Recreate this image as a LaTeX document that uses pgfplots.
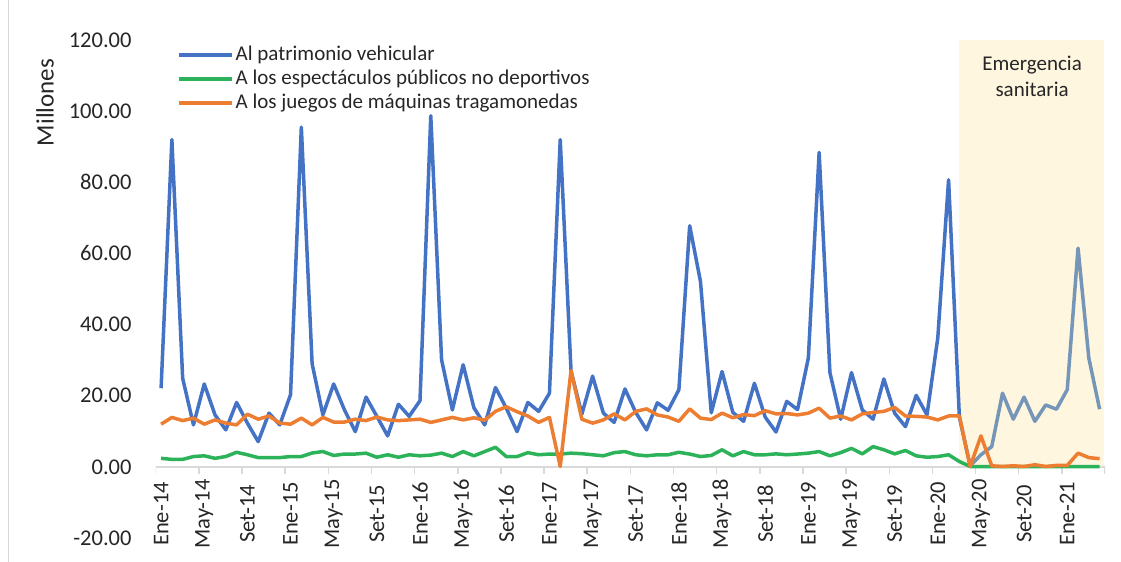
\documentclass[border=0pt]{standalone}
\usepackage{fontspec}
\setmainfont{Carlito}
\usepackage{pgfplots}
\usepackage{pgfplotstable}
\pgfplotsset{compat=1.18}
\definecolor{cblue}{HTML}{4472C4}
\definecolor{cgrey}{HTML}{7596B8}
\definecolor{cgreen}{HTML}{2CB35A}
\definecolor{corange}{HTML}{ED7D31}
\definecolor{ccream}{HTML}{FFF6DF}
\definecolor{caxis}{HTML}{D9D9D9}
\definecolor{ctext}{HTML}{262626}

\pgfplotstableread{
i blue orange green
0 22.1 12.0 2.4
1 92.0 13.9 2.1
2 24.9 13.0 2.1
3 11.8 13.7 2.9
4 23.3 12.0 3.1
5 14.6 13.2 2.4
6 10.4 12.3 2.9
7 18.1 11.8 4.1
8 12.3 14.8 3.4
9 7.1 13.4 2.6
10 15.1 14.3 2.6
11 11.8 12.3 2.6
12 20.3 12.0 2.9
13 95.5 13.7 2.9
14 29.0 11.8 3.9
15 14.6 13.9 4.3
16 23.3 12.6 3.2
17 16.0 12.6 3.6
18 9.9 13.4 3.6
19 19.6 13.0 3.85
20 14.2 14.0 2.7
21 8.7 13.2 3.4
22 17.6 13.0 2.7
23 14.2 13.2 3.4
24 18.6 13.4 3.1
25 98.7 12.5 3.3
26 30.1 13.2 3.85
27 16.0 13.9 2.9
28 28.7 13.2 4.3
29 16.6 13.8 3.1
30 11.8 13.1 4.3
31 22.3 15.6 5.5
32 16.5 16.9 2.9
33 9.9 15.5 2.9
34 18.1 14.3 4.0
35 15.6 12.5 3.4
36 20.7 13.9 3.6
37 92.0 0.1 3.6
38 27.0 27.1 3.85
39 14.8 13.4 3.7
40 25.5 12.3 3.4
41 15.1 13.2 3.1
42 12.5 14.9 4.0
43 21.9 13.2 4.3
44 15.3 15.6 3.4
45 10.4 16.3 3.1
46 18.0 14.6 3.4
47 15.9 14.0 3.4
48 21.7 12.8 4.1
49 67.8 16.3 3.6
50 52.1 13.7 2.9
51 15.2 13.3 3.2
52 26.8 15.1 4.8
53 15.3 13.8 3.1
54 12.8 14.7 4.3
55 23.5 14.4 3.4
56 14.0 15.8 3.4
57 9.8 14.9 3.65
58 18.4 15.0 3.4
59 16.1 14.6 3.6
60 30.6 15.1 3.85
61 88.4 16.5 4.3
62 26.5 13.7 3.1
63 13.4 14.3 4.0
64 26.5 13.2 5.2
65 16.0 14.9 3.65
66 13.4 15.3 5.7
67 24.7 15.6 4.8
68 15.1 16.7 3.65
69 11.3 14.3 4.6
70 20.1 14.2 3.1
71 14.6 14.0 2.7
72 36.3 13.2 2.9
73 80.7 14.3 3.4
74 14.0 14.3 1.5
75 0.3 0.1 0.1
76 3.4 8.7 0.05
77 5.7 0.3 0.05
78 20.7 0.1 0.05
79 13.4 0.3 0.05
80 19.6 0.1 0.05
81 12.8 0.6 0.05
82 17.4 0.1 0.05
83 16.2 0.4 0.05
84 21.7 0.4 0.05
85 61.5 3.85 0.05
86 30.6 2.6 0.05
87 16.2 2.3 0.05
}\datatable

\begin{document}
\begin{tikzpicture}
\path[use as bounding box] (-155.7bp,-24bp) rectangle (965.3bp,538bp);
\draw[caxis, line width=1bp] (-146.7bp,-24bp) -- (-146.7bp,538bp);
\begin{axis}[
  at={(0,0)}, anchor=south west,
  scale only axis, width=949.3bp, height=498bp,
  xmin=-0.5, xmax=87.5, ymin=-20, ymax=120,
  axis line style={draw=none},
  tick style={draw=none},
  major tick length=0pt,
  ytick={-20,0,20,40,60,80,100,120},
  /pgf/number format/assume math mode=true,
  yticklabel style={/pgf/number format/.cd, fixed, fixed zerofill, precision=2, /tikz/.cd,
     font=\fontsize{22.5bp}{26bp}\selectfont, text=ctext, anchor=east, inner sep=0pt, xshift=-24bp},
  xtick={0,4,...,84},
  xticklabels={Ene-14,May-14,Set-14,Ene-15,May-15,Set-15,Ene-16,May-16,Set-16,Ene-17,May-17,Set-17,Ene-18,May-18,Set-18,Ene-19,May-19,Set-19,Ene-20,May-20,Set-20,Ene-21},
  xticklabel style={font=\fontsize{22.5bp}{26bp}\selectfont, text=ctext, yshift=24bp, rotate=90, anchor=center},
  ylabel={Millones},
  ylabel style={at={(axis description cs:-0.1166,0.8745)}, anchor=center, font=\fontsize{25bp}{28bp}\selectfont, text=ctext},
  legend image code/.code={\draw[#1, line width=3.5bp] (0bp,0bp) -- (53bp,0bp);},
  legend style={at={(axis description cs:0.0193,0.998)}, anchor=north west, draw=none, fill=none,
     font=\fontsize{21bp}{24bp}\selectfont, text=ctext, row sep=0pt,
     nodes={inner sep=2bp, text height=15bp, text depth=5bp}},
  legend cell align=left,
]
\fill[ccream] (axis cs:74,0) rectangle (axis cs:87.45,120);
\draw[caxis, line width=1.5bp] (axis cs:-0.5,0) -- (axis cs:87.5,0);
\pgfplotsinvokeforeach{0,...,22}{
  \draw[caxis, line width=1.5bp] (axis cs:#1*4-0.5,0) -- ++(0bp,-7bp);
}
\addplot[cblue, line width=3.5bp, line join=round] table[x=i, y=blue, restrict x to domain=0:75] {\datatable};
\addlegendentry{Al patrimonio vehicular}
\addplot[cgreen, line width=3.5bp, line join=round] table[x=i, y=green] {\datatable};
\addlegendentry{A los espectáculos públicos no deportivos}
\addplot[cgrey, line width=3.5bp, line join=round, forget plot] table[x=i, y=blue, restrict x to domain=75:87] {\datatable};
\addplot[corange, line width=3.5bp, line join=round] table[x=i, y=orange] {\datatable};
\addlegendentry{A los juegos de máquinas tragamonedas}
\node[align=center, font=\fontsize{21bp}{26bp}\selectfont, text=ctext] at (axis cs:80.74,109.7) {Emergencia\\sanitaria};
\end{axis}
\end{tikzpicture}
\end{document}
